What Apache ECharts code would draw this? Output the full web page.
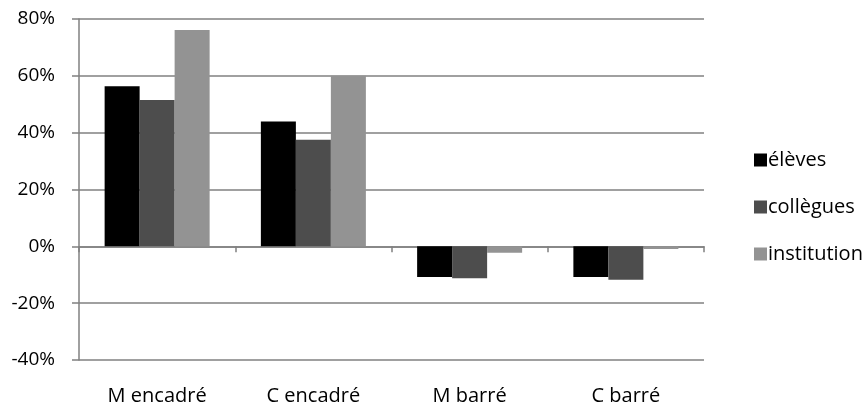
<!DOCTYPE html>
<html>
<head>
<meta charset="utf-8">
<script src="https://cdn.jsdelivr.net/npm/echarts@6/dist/echarts.min.js"></script>
<style>
  html, body { margin: 0; padding: 0; background: #fff; }
  #chart { width: 866px; height: 406px; }
</style>
</head>
<body>
<div id="chart"></div>
<script>
// Categories and percentage values per group
const categories = ['M encadré', 'C encadré', 'M barré', 'C barré'];
const seriesNames = ['élèves', 'collègues', 'institution'];
const eleves = [56.3, 43.9, -10.8, -10.8];
const collegues = [51.5, 37.5, -11.2, -11.8];
const institution = [76.1, 60, -2.3, -0.9];
const yTicks = [-40, -20, 0, 20, 40, 60, 80];

const colors = ['#000000', '#4d4d4d', '#939393'];
const axisGray = '#808080';
const font = '"Open Sans", "Liberation Sans", sans-serif';

const chart = echarts.init(document.getElementById('chart'), null, { renderer: 'canvas' });

const valuesList = [eleves, collegues, institution];

chart.setOption({
  animation: false,
  color: colors,
  grid: { left: 79, right: 162, top: 19, bottom: 44, containLabel: false },
  legend: {
    orient: 'vertical',
    left: 749,
    top: 145,
    itemWidth: 13,
    itemHeight: 13,
    itemGap: 27,
    icon: 'rect',
    textStyle: { fontFamily: font, fontSize: 20, color: '#000', padding: [0, 0, 0, -4] },
    data: seriesNames
  },
  xAxis: [
    {
      // zero line with category separators
      type: 'category',
      data: categories,
      axisLine: { onZero: true, lineStyle: { color: axisGray, width: 1.5 } },
      axisTick: { show: true, alignWithLabel: false, length: 6, lineStyle: { color: axisGray, width: 1.5 } },
      axisLabel: { show: false },
      splitLine: { show: false }
    },
    {
      // category names along the bottom
      type: 'category',
      data: categories,
      position: 'bottom',
      axisLine: { show: false },
      axisTick: { show: false },
      axisLabel: { show: true, margin: 26, fontFamily: font, fontSize: 20, color: '#000' }
    }
  ],
  yAxis: {
    type: 'value',
    min: yTicks[0],
    max: yTicks[yTicks.length - 1],
    interval: 20,
    axisLine: { show: true, lineStyle: { color: axisGray, width: 1.5 } },
    axisTick: { show: true, inside: false, length: 7, lineStyle: { color: axisGray, width: 1.5 } },
    axisLabel: { formatter: v => v + '%', margin: 24, fontFamily: font, fontSize: 19, color: '#000' },
    splitLine: { show: true, lineStyle: { color: axisGray, width: 1.5 } }
  },
  series: seriesNames.map((name, i) => ({
    name: name,
    type: 'bar',
    xAxisIndex: 0,
    data: valuesList[i],
    barWidth: 35,
    barGap: '0%',
    itemStyle: { color: colors[i] }
  }))
});
</script>
</body>
</html>
